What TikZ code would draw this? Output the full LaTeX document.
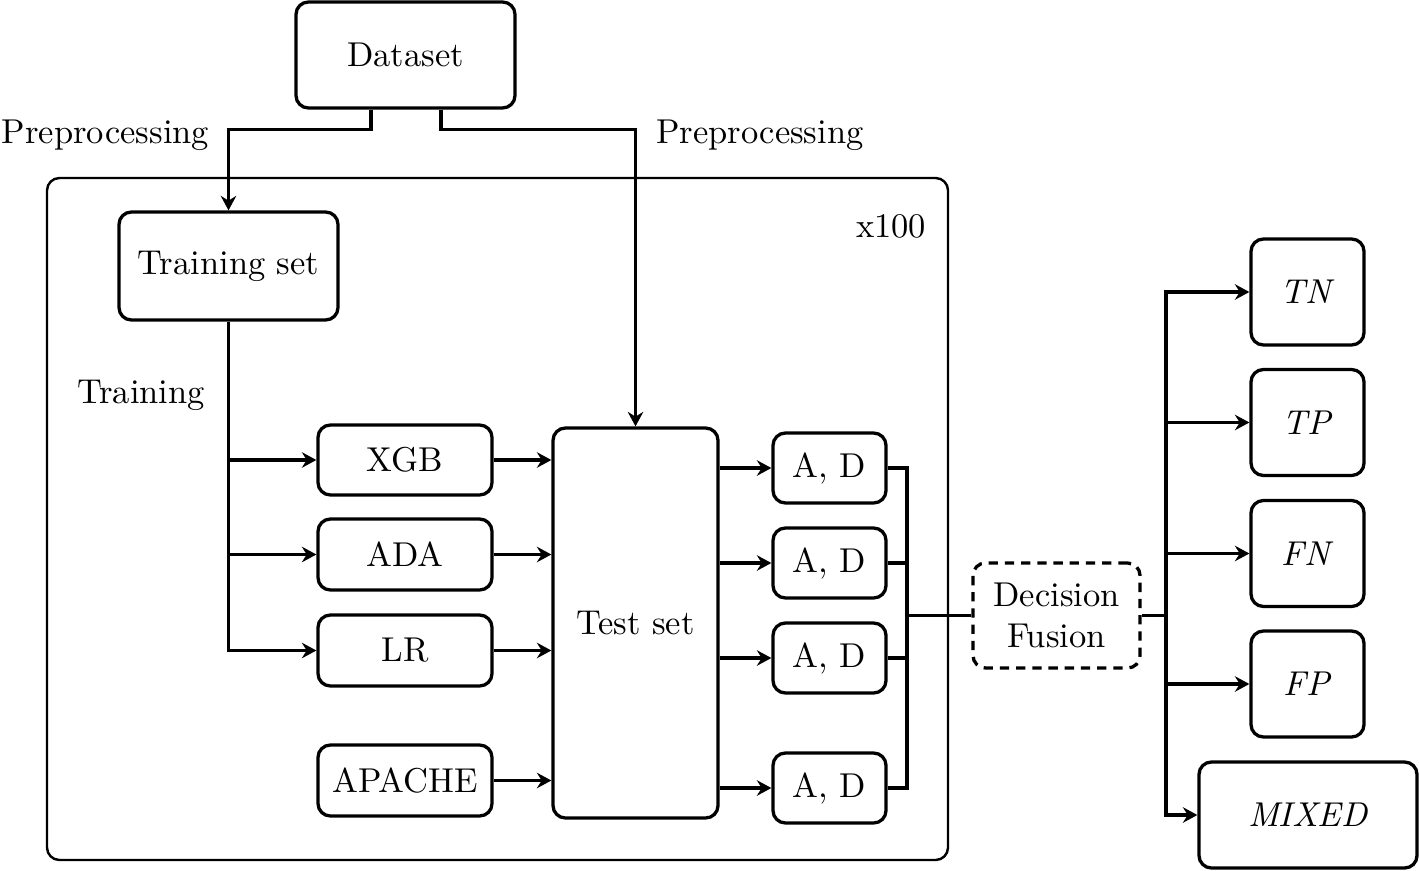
\documentclass[tikz,border=0pt]{standalone}
\usetikzlibrary{arrows.meta,calc}
\tikzset{
  sz/.style 2 args={minimum width=#1*0.29pt, minimum height=#2*0.29pt},
  blk/.style={draw, line width=0.95pt, rounded corners=3.6pt, inner sep=0pt, align=center},
  outerbox/.style={draw, line width=0.7pt, rounded corners=3.6pt, inner sep=0pt},
  dfbox/.style={draw, line width=0.95pt, rounded corners=3.6pt, inner sep=0pt, align=center, dash pattern=on 2.7pt off 2pt},
  conn/.style={line width=0.95pt},
  arr/.style={line width=0.95pt, -{Stealth[length=4.2pt,width=4.5pt,inset=1.4pt]}},
}
\begin{document}
\begin{tikzpicture}[x=0.29pt,y=-0.29pt]
\useasboundingbox (0,0) rectangle (1419,870);

% loop box
\node[outerbox, sz={901}{682}] (loop) at (497.5,519) {};
\node (rep) at (891,226) {x100};

% nodes
\node[blk, sz={219}{106}] (ds) at (405.5,55) {Dataset};
\node[blk, sz={219}{108}] (tr) at (228.5,266) {Training set};
\node[blk, sz={174}{70}] (xgb) at (405,460) {XGB};
\node[blk, sz={174}{71}] (ada) at (405,554.5) {ADA};
\node[blk, sz={174}{71}] (lr) at (405,650.5) {LR};
\node[blk, sz={174}{71}] (apa) at (405,780.5) {APACHE};
\node[blk, sz={165}{390}] (ts) at (635.5,623) {Test set};
\node[blk, sz={113}{70}] (ad1) at (829.5,468) {A, D};
\node[blk, sz={113}{70}] (ad2) at (829.5,563) {A, D};
\node[blk, sz={113}{70}] (ad3) at (829.5,658) {A, D};
\node[blk, sz={113}{70}] (ad4) at (829.5,788) {A, D};
\node[dfbox, sz={167}{105}] (df) at (1056.5,615.5) {Decision\\Fusion};
\node[blk, sz={113}{106}] (tn) at (1307.5,292) {\textit{TN}};
\node[blk, sz={113}{106}] (tp) at (1307.5,422.5) {\textit{TP}};
\node[blk, sz={113}{106}] (fn) at (1307.5,553.5) {\textit{FN}};
\node[blk, sz={113}{106}] (fp) at (1307.5,684) {\textit{FP}};
\node[blk, sz={218}{106}] (mx) at (1308,815) {\textit{MIXED}};

% labels
\node (pp1) at (105.5,135) {Preprocessing};
\node (pp2) at (760,135) {Preprocessing};
\node (trn) at (141,395) {Training};

% preprocessing connectors
\draw[arr] ($(ds.south)+(-34.5,0)$) -- ++(0,20) -| (tr.north);
\draw[arr] ($(ds.south)+(35.5,0)$) -- ++(0,20) -| (ts.north);

% training connectors
\draw[arr] (tr.south) |- (xgb.west);
\draw[arr] (tr.south) |- (ada.west);
\draw[arr] (tr.south) |- (lr.west);

% models to test set
\draw[arr] (xgb.east) -- (xgb.east -| ts.west);
\draw[arr] (ada.east) -- (ada.east -| ts.west);
\draw[arr] (lr.east) -- (lr.east -| ts.west);
\draw[arr] (apa.east) -- (apa.east -| ts.west);

% test set to A,D
\draw[arr] (ad1.west -| ts.east) -- (ad1.west);
\draw[arr] (ad2.west -| ts.east) -- (ad2.west);
\draw[arr] (ad3.west -| ts.east) -- (ad3.west);
\draw[arr] (ad4.west -| ts.east) -- (ad4.west);

% A,D to decision fusion
\coordinate (b1) at (907,615.5);
\draw[conn] (ad1.east) -| (b1);
\draw[conn] (ad4.east) -| (b1);
\draw[conn] (ad2.east) -- (ad2.east -| b1);
\draw[conn] (ad3.east) -- (ad3.east -| b1);
\draw[conn] (b1) -- (df.west);

% decision fusion to outcomes
\coordinate (b2) at (1166,615.5);
\draw[conn] (df.east) -- (b2);
\draw[arr] (b2) |- (tn.west);
\draw[arr] (b2) |- (tp.west);
\draw[arr] (b2) |- (fn.west);
\draw[arr] (b2) |- (fp.west);
\draw[arr] (b2) |- (mx.west);
\end{tikzpicture}
\end{document}
